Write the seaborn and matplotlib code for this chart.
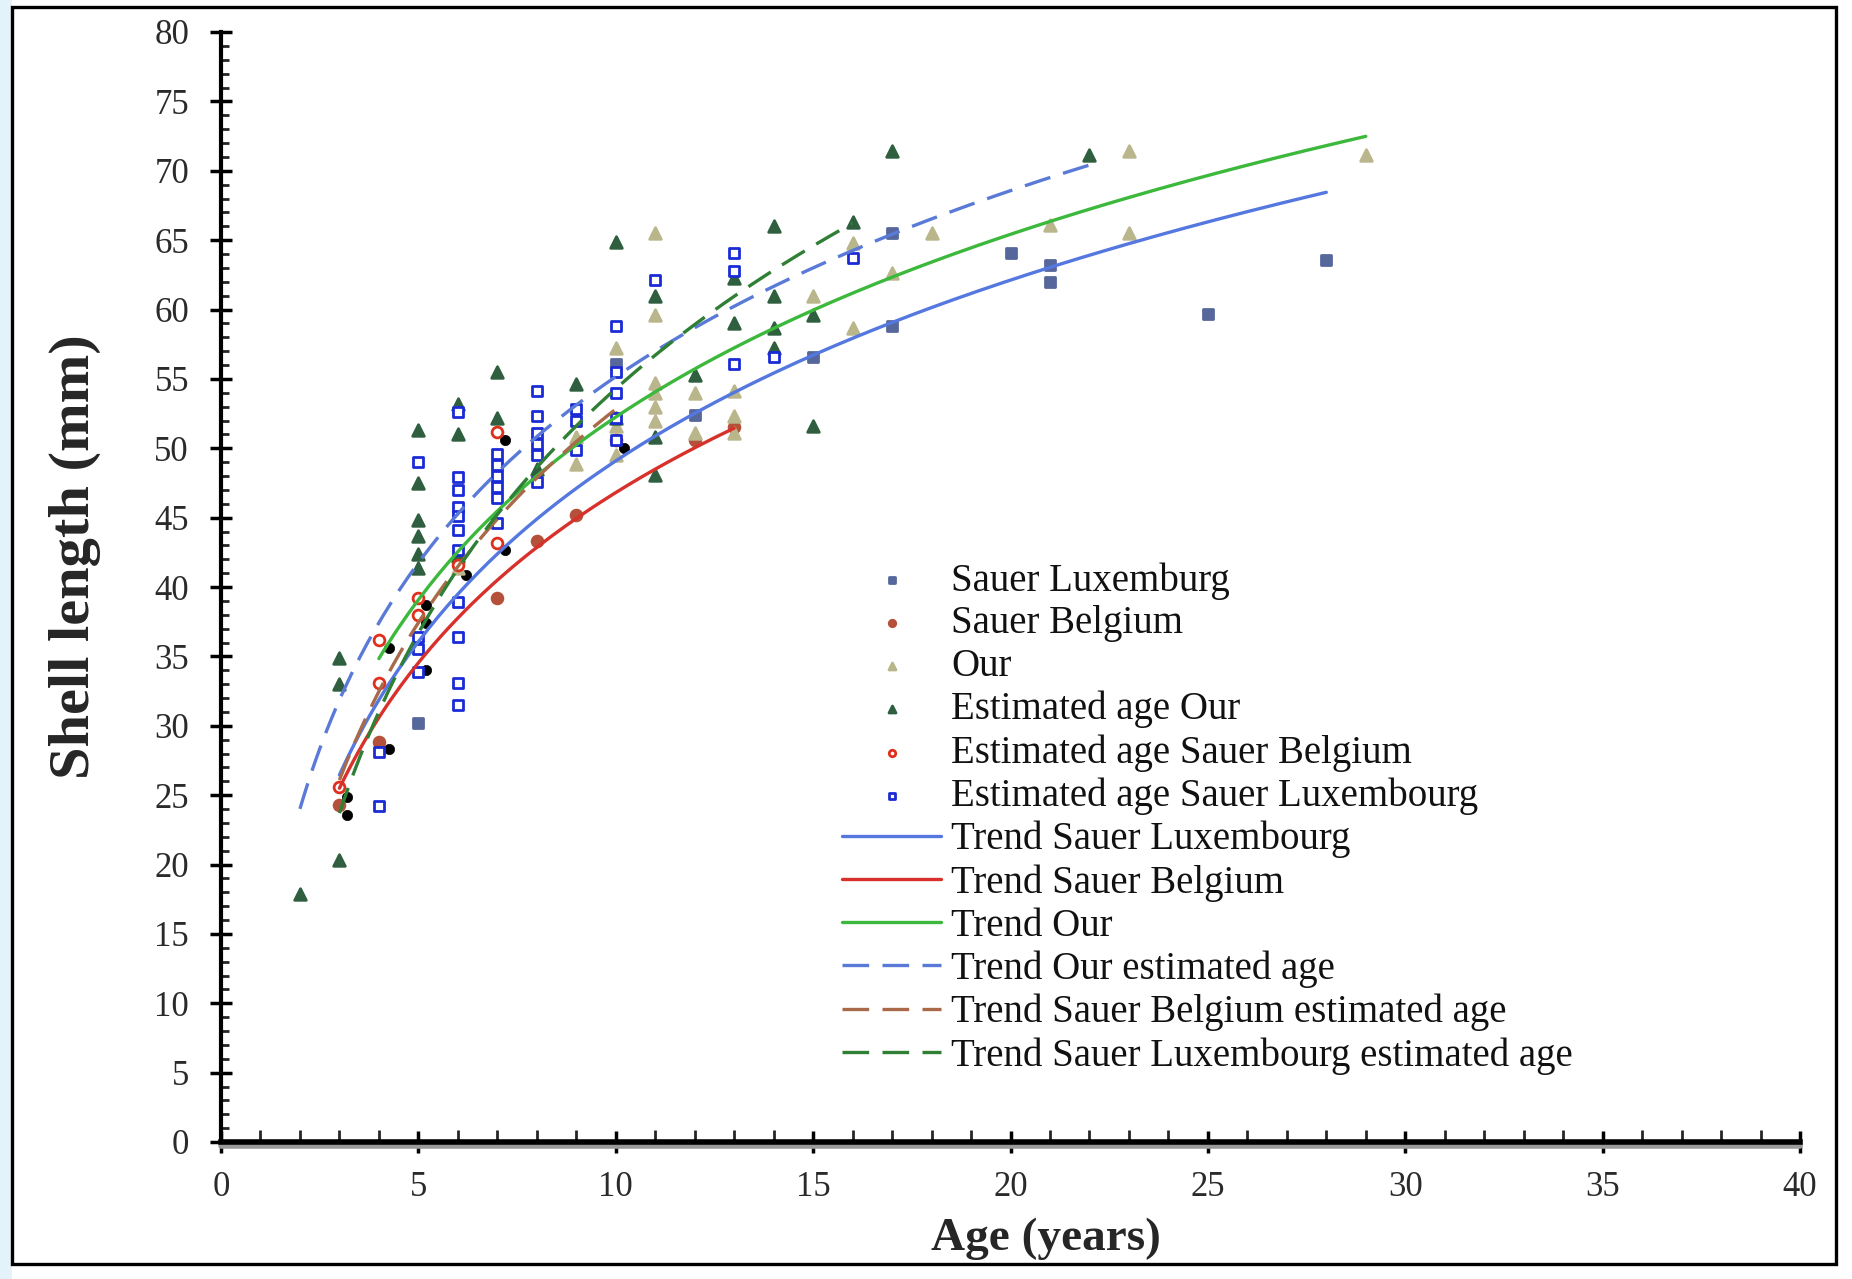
import numpy as np
import pandas as pd
import matplotlib
matplotlib.use("Agg")
import matplotlib.pyplot as plt
import seaborn as sns
from matplotlib.patches import Rectangle
from matplotlib.ticker import MultipleLocator
from matplotlib.lines import Line2D
import matplotlib.transforms as mtransforms

sns.set_theme(style="white")
plt.rcParams["font.family"] = ["Liberation Serif", "DejaVu Serif"]

# ---- measured shell lengths (mm) by age (years) ----
sl_age = [5, 10, 12, 15, 17, 17, 20, 21, 21, 25, 28]
sl_len = [30.2, 56.1, 52.4, 56.6, 65.5, 58.8, 64.1, 63.2, 62.0, 59.7, 63.6]

sb_age = [3, 4, 7, 8, 9, 12, 13]
sb_len = [24.3, 28.8, 39.2, 43.3, 45.2, 50.6, 51.5]

our_age = [6, 9, 9, 10, 10, 10, 11, 11, 11, 11, 11, 11, 12, 12, 13, 13, 13,
           15, 16, 16, 17, 18, 21, 23, 23, 29]
our_len = [41.4, 50.8, 48.9, 57.2, 51.6, 49.5, 65.5, 59.6, 54.7, 54.0, 53.0, 52.0,
           54.0, 51.1, 54.1, 52.3, 51.1, 61.0, 64.8, 58.7, 62.6, 65.5, 66.1,
           71.4, 65.5, 71.1]

est_our_age = [2, 3, 3, 3, 5, 5, 5, 5, 5, 5, 6, 6, 6, 7, 7, 8, 9, 10, 10, 11, 11,
               11, 12, 13, 13, 14, 14, 14, 14, 15, 15, 16, 17, 22]
est_our_len = [17.9, 34.9, 33.0, 20.3, 51.3, 47.5, 44.8, 43.7, 42.4, 41.4, 53.2,
               51.0, 42.2, 55.5, 52.2, 48.5, 54.6, 64.9, 52.2, 61.0, 50.8, 48.1,
               55.3, 62.3, 59.0, 66.0, 61.0, 58.7, 57.2, 59.6, 51.6, 66.3, 71.4, 71.1]

est_sb_age = [3, 4, 4, 5, 5, 6, 7, 7, 10]
est_sb_len = [25.6, 36.2, 33.1, 39.2, 38.0, 41.6, 51.2, 43.2, 50.6]

est_sl_age = [4, 4, 5, 5, 5, 5, 6, 6, 6, 6, 6, 6, 6, 6, 6, 6, 6,
              7, 7, 7, 7, 7, 7, 8, 8, 8, 8, 8, 8, 9, 9, 9,
              10, 10, 10, 10, 10, 11, 13, 13, 13, 14, 16]
est_sl_len = [28.1, 24.2, 49.0, 36.4, 35.5, 33.9, 52.6, 47.9, 47.0, 45.8, 45.1,
              44.1, 42.7, 38.9, 36.4, 33.1, 31.5, 49.6, 48.8, 48.0, 47.2, 46.4,
              44.6, 54.1, 52.3, 51.1, 50.3, 49.5, 47.6, 52.8, 52.0, 49.9, 58.8,
              55.5, 54.0, 52.2, 50.6, 62.1, 64.1, 62.8, 56.1, 56.6, 63.7]

# dark points drawn alongside the Belgian estimated-age values
dark_age = [3.2, 3.2, 4.25, 4.25, 5.2, 5.2, 5.2, 6.2, 7.2, 7.2, 10.2]
dark_len = [24.9, 23.6, 35.6, 28.3, 38.7, 37.4, 34.0, 40.9, 50.6, 42.7, 50.0]

# ---- logarithmic trends: length = a * ln(age) + b ----
trend_names = ["Trend Sauer Luxembourg", "Trend Sauer Belgium", "Trend Our",
               "Trend Our estimated age", "Trend Sauer Belgium estimated age",
               "Trend Sauer Luxembourg estimated age"]
trend_a = [18.8, 17.7, 19.0, 19.35, 22.2, 25.4]
trend_b = [5.8, 6.05, 8.5, 10.6, 1.7, -4.2]
trend_start = [3, 3, 4, 2, 3, 3]
trend_end = [28, 13, 29, 22, 10, 16]

# ---- figure ----
W, H = 1852, 1279
fig = plt.figure(figsize=(W / 100, H / 100), dpi=100)
fig.patch.set_facecolor("white")
ax = fig.add_axes([221 / W, 1 - 1142 / H, (1800 - 221) / W, (1142 - 32) / H])
ax.set_facecolor("white")

scatter_specs = [
    ("Sauer Luxemburg", sl_age, sl_len, "s", "#56679c", "#56679c", 60),
    ("Sauer Belgium", sb_age, sb_len, "o", "#b5503a", "#b5503a", 60),
    ("Our", our_age, our_len, "^", "#bab68c", "#bab68c", 70),
    ("Estimated age Our", est_our_age, est_our_len, "^", "#2f5f3f", "#2f5f3f", 70),
    ("Estimated age Sauer Belgium", est_sb_age, est_sb_len, "o", "white", "#e0301c", 60),
    ("Estimated age Sauer Luxembourg", est_sl_age, est_sl_len, "s", "white", "#1a2bd6", 60),
]

sns.scatterplot(x=dark_age, y=dark_len, ax=ax, marker="o", s=55, color="black",
                edgecolor="black", linewidth=0.5, zorder=2, label="_dark")
for name, xs, ys, mk, fc, ec, size in scatter_specs:
    df = pd.DataFrame({"age": xs, "length": ys})
    sns.scatterplot(data=df, x="age", y="length", ax=ax, marker=mk, s=size,
                    color=fc, edgecolor=ec, linewidth=2.0, zorder=2, label=name)

trend_styles = [
    ("#5577e0", "-"), ("#d8302a", "-"), ("#3cb83c", "-"),
    ("#5a7ad8", (0, (8, 4))), ("#a86a48", (0, (8, 4))), ("#2f7f35", (0, (8, 4))),
]
for name, a, b, x0, x1, (col, ls) in zip(trend_names, trend_a, trend_b,
                                         trend_start, trend_end, trend_styles):
    xs = np.linspace(x0, x1, 200)
    tdf = pd.DataFrame({"age": xs, "length": a * np.log(xs) + b})
    sns.lineplot(data=tdf, x="age", y="length", ax=ax, color=col, linewidth=2.4,
                 linestyle=ls, zorder=3, label=name)

# ---- axes ----
ax.set_xlim(0, 40)
ax.set_ylim(0, 80)
ax.xaxis.set_major_locator(MultipleLocator(5))
ax.xaxis.set_minor_locator(MultipleLocator(1))
ax.yaxis.set_major_locator(MultipleLocator(5))
ax.yaxis.set_minor_locator(MultipleLocator(1))
for side in ["top", "right"]:
    ax.spines[side].set_visible(False)
ax.spines["left"].set_linewidth(3)
ax.spines["bottom"].set_linewidth(4)
ax.spines["left"].set_color("black")
ax.spines["bottom"].set_color("black")
ax.tick_params(axis="x", which="major", direction="inout", length=16, width=2.5,
               pad=13, labelsize=25, colors="black", bottom=True)
ax.tick_params(axis="x", which="minor", direction="in", length=9, width=2, bottom=True)
ax.tick_params(axis="y", which="major", direction="inout", length=16, width=2.5,
               pad=15, labelsize=25, colors="black", left=True)
ax.tick_params(axis="y", which="minor", direction="in", length=6, width=2, left=True)
for lab in ax.get_xticklabels() + ax.get_yticklabels():
    lab.set_color("#2a2a2a")

# grey shading under the x axis line
shade = mtransforms.offset_copy(ax.transAxes, fig=fig, x=0, y=-4, units="dots")
ax.add_line(Line2D([0, 1], [0, 0], transform=shade, color="#9a9a9a", lw=4,
                   clip_on=False, zorder=1))

ax.set_xlabel("Age (years)", fontsize=34, fontweight="bold")
ax.xaxis.set_label_coords((1046 - 221) / 1579, -0.068)
ax.set_ylabel("Shell length (mm)", fontsize=42, fontweight="bold")
ax.yaxis.set_label_coords(-0.076, 0.527)

# ---- legend ----
handles, labels = ax.get_legend_handles_labels()
order = [n for n, *_ in scatter_specs] + trend_names
hmap = dict(zip(labels, handles))
leg = ax.legend([hmap[n] for n in order], order, loc="upper left",
                bbox_to_anchor=(842 / W, 1 - 562 / H), bbox_transform=fig.transFigure,
                frameon=False, fontsize=28, labelspacing=0.15, handlelength=2.55,
                handletextpad=0.25, borderpad=0.0, borderaxespad=0.0,
                markerscale=0.6, scatterpoints=1)
for t in leg.get_texts():
    t.set_color("#111111")

# ---- page frame ----
fig.patches.append(Rectangle((0, 0), 12 / W, 1, transform=fig.transFigure,
                             facecolor="#e4f2f9", edgecolor="none", zorder=0))
fig.patches.append(Rectangle((12 / W, 1 - 1264 / H), (1836 - 12) / W, (1264 - 7) / H,
                             transform=fig.transFigure, facecolor="none",
                             edgecolor="black", linewidth=2.4, zorder=5))

fig.savefig("out.png", dpi=100)
